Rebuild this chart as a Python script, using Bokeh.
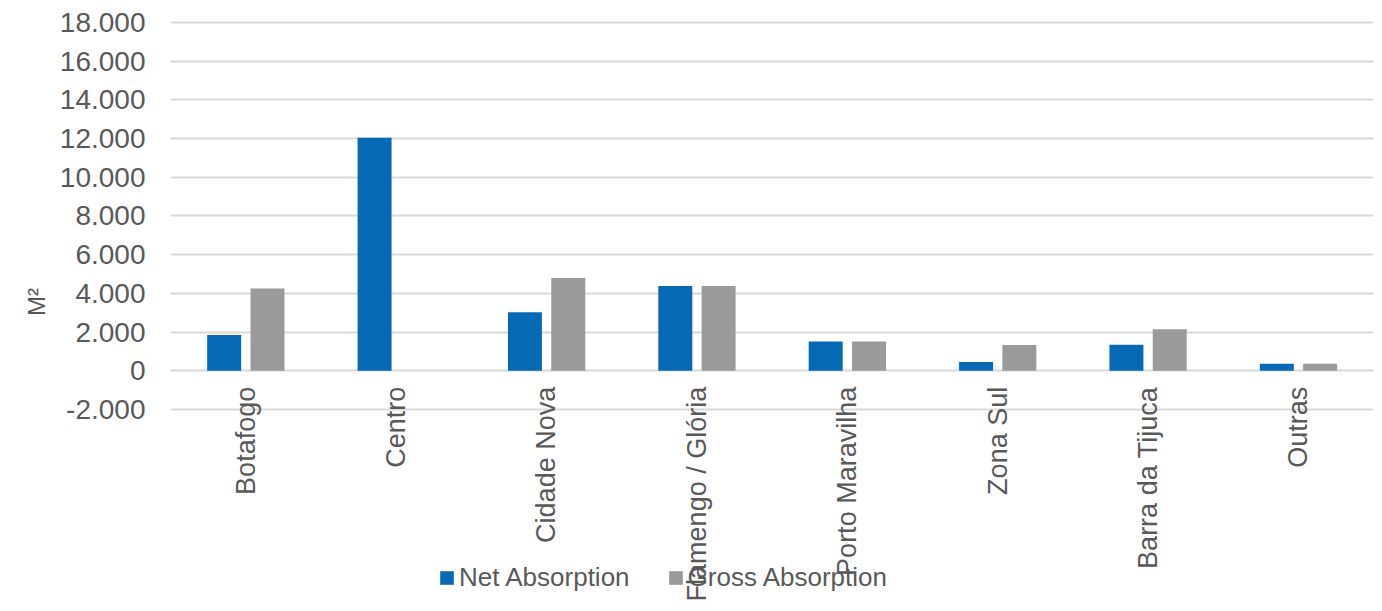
import math
from bokeh.plotting import figure
from bokeh.models import (Range1d, FactorRange, FixedTicker, Legend, LegendItem,
                          ColumnDataSource)
from bokeh.transform import dodge
from bokeh.embed import file_html
from bokeh.resources import INLINE

categories = ["Botafogo", "Centro", "Cidade Nova", "Flamengo / Glória",
              "Porto Maravilha", "Zona Sul", "Barra da Tijuca", "Outras"]
net_absorption = [1850, 12050, 3030, 4380, 1520, 450, 1350, 360]
gross_absorption = [4250, 0, 4800, 4380, 1520, 1330, 2150, 360]
series_names = ["Net Absorption", "Gross Absorption"]
y_ticks = [-2000, 0, 2000, 4000, 6000, 8000, 10000, 12000, 14000, 16000, 18000]
y_tick_labels = ["-2.000", "0", "2.000", "4.000", "6.000", "8.000", "10.000",
                 "12.000", "14.000", "16.000", "18.000"]
y_axis_title = "M²"

BLUE = "#0569B5"
GRAY = "#9A9A9A"
TEXT = "#595959"
FONT = "Liberation Sans"

src = ColumnDataSource(dict(cat=categories, net=net_absorption, gross=gross_absorption))

p = figure(x_range=FactorRange(factors=categories), y_range=Range1d(-12026, 19137),
           width=1374, height=603, output_backend="svg", toolbar_location=None,
           min_border_left=170, min_border_right=1, min_border_top=0, min_border_bottom=0,
           title=None)

r1 = p.vbar(x=dodge("cat", -0.143, range=p.x_range), top="net", width=0.226,
            source=src, fill_color=BLUE, line_color=None)
r2 = p.vbar(x=dodge("cat", 0.145, range=p.x_range), top="gross", width=0.226,
            source=src, fill_color=GRAY, line_color=None)

p.outline_line_color = None
p.xgrid.visible = False
p.ygrid.grid_line_color = "#D9D9D9"
p.ygrid.grid_line_width = 2

p.yaxis.ticker = FixedTicker(ticks=y_ticks)
p.yaxis.major_label_overrides = {t: l for t, l in zip(y_ticks, y_tick_labels)}
p.yaxis.axis_line_color = None
p.yaxis.major_tick_line_color = None
p.yaxis.minor_tick_line_color = None
p.yaxis.major_tick_out = 0
p.yaxis.major_label_standoff = 25
p.yaxis.major_label_text_font_size = "28px"
p.yaxis.major_label_text_color = TEXT
p.yaxis.major_label_text_font = FONT
p.yaxis.axis_label = y_axis_title
p.yaxis.axis_label_text_font_size = "24px"
p.yaxis.axis_label_text_font_style = "normal"
p.yaxis.axis_label_text_color = TEXT
p.yaxis.axis_label_text_font = FONT
p.yaxis.axis_label_standoff = 7

p.xaxis.fixed_location = 0
p.xaxis.major_label_orientation = math.pi / 2
p.xaxis.axis_line_color = None
p.xaxis.major_tick_line_color = None
p.xaxis.minor_tick_line_color = None
p.xaxis.major_tick_out = 0
p.xaxis.major_label_standoff = 16
p.xaxis.major_label_text_font_size = "27px"
p.xaxis.major_label_text_color = TEXT
p.xaxis.major_label_text_font = FONT

legend = Legend(items=[LegendItem(label=series_names[0], renderers=[r1]),
                       LegendItem(label=series_names[1], renderers=[r2])],
                location=(268, 10), orientation="horizontal",
                border_line_color=None, background_fill_alpha=0,
                padding=0, margin=0, spacing=37, glyph_width=17, glyph_height=17,
                label_standoff=4, label_text_font_size="26px",
                label_text_color=TEXT, label_text_font=FONT)
p.add_layout(legend)

open("out.html", "w").write(file_html(p, INLINE))
